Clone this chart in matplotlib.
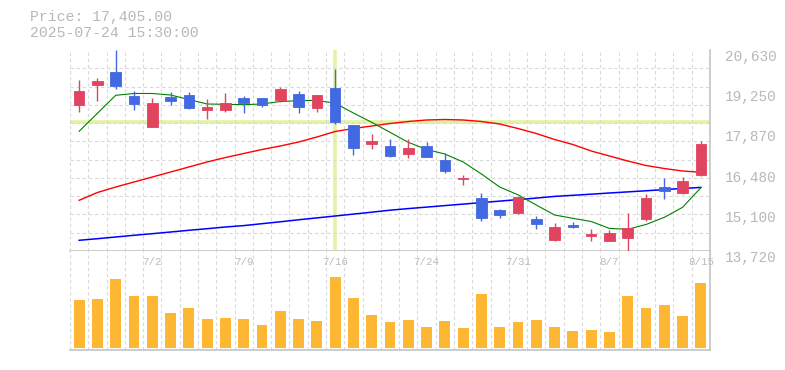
import numpy as np
import matplotlib
matplotlib.use("Agg")
import matplotlib.pyplot as plt
from matplotlib.ticker import FixedLocator
from matplotlib.transforms import blended_transform_factory

plt.rcParams['font.family'] = ['Liberation Mono', 'DejaVu Sans Mono']

# daily candles, 2025-06-26 .. 2025-08-15
dates = ['6/26', '6/27', '6/30', '7/1', '7/2', '7/3', '7/4', '7/7', '7/8', '7/9',
         '7/10', '7/11', '7/14', '7/15', '7/16', '7/17', '7/18', '7/22', '7/23', '7/24',
         '7/25', '7/28', '7/29', '7/30', '7/31', '8/1', '8/4', '8/5', '8/6', '8/7',
         '8/8', '8/12', '8/13', '8/14', '8/15']
opens = [18740, 19425, 19875, 19050, 17995, 19025, 19085, 18580, 18565, 18980,
         18980, 18920, 19115, 18635, 19325, 18050, 17410, 17330, 17065, 17330,
         16840, 16180, 15530, 15130, 15025, 14820, 14100, 14615, 14245, 14075,
         14175, 14830, 15920, 15725, 16335]
highs = [19600, 19680, 20630, 19220, 18980, 19185, 19185, 18945, 19150, 19050,
         18985, 19370, 19220, 19085, 19975, 18050, 17740, 17570, 17560, 17465,
         17080, 16320, 15715, 15175, 15590, 14925, 14685, 14715, 14475, 14430,
         15025, 15680, 16230, 16265, 17500]
lows = [18510, 18875, 19300, 18565, 17990, 18740, 18610, 18260, 18500, 18465,
        18680, 18830, 18465, 18510, 18085, 17030, 17235, 16960, 16925, 16960,
        16410, 16000, 14760, 14865, 14990, 14485, 14065, 14510, 14065, 14070,
        13720, 14760, 15520, 15690, 16310]
closes = [19220, 19565, 19390, 18775, 18810, 18885, 18635, 18680, 18810, 18820,
          18730, 19290, 18670, 19085, 18140, 17270, 17500, 16985, 17260, 16960,
          16480, 16215, 14865, 14960, 15565, 14660, 14545, 14545, 14305, 14340,
          14510, 15540, 15795, 16125, 17405]
volumes = [48, 49, 69, 52, 52, 35, 40, 29, 30, 29,
           23, 37, 29, 27, 71, 50, 33, 26, 28, 21,
           27, 20, 54, 21, 26, 28, 21, 17, 18, 16,
           52, 40, 43, 32, 65]

ma_short = [17835, 18454, 19073, 19135, 19135, 19083, 18928, 18774, 18763, 18750,
            18774, 18860, 18887, 18901, 18798, 18464, 18144, 17801, 17457, 17209,
            17055, 16780, 16367, 15920, 15652, 15301, 14958, 14844, 14734, 14497,
            14466, 14631, 14878, 15222, 15896]
ma_mid = [15463, 15731, 15920, 16092, 16264, 16436, 16608, 16780, 16934, 17072,
          17209, 17330, 17467, 17639, 17828, 17931, 18017, 18103, 18172, 18224,
          18241, 18224, 18172, 18086, 17931, 17759, 17553, 17381, 17158, 16986,
          16814, 16659, 16556, 16470, 16426]
ma_long = [14088, 14143, 14201, 14260, 14315, 14373, 14432, 14487, 14545, 14593,
           14659, 14724, 14793, 14858, 14923, 14989, 15054, 15123, 15178, 15229,
           15281, 15332, 15384, 15435, 15487, 15539, 15597, 15635, 15673, 15714,
           15752, 15790, 15831, 15869, 15906]

price_ticks = [20630, 19250, 17870, 16480, 15100, 13720]
label_every = [4, 9, 14, 19, 24, 29, 34]
cursor_idx = 14

up_col = '#e0445f'
down_col = '#4169e1'
vol_col = '#fdb733'
grid_col = '#d9d9d9'
frame_col = '#c4c4c4'
text_col = '#b8b8b8'

fig = plt.figure(figsize=(7.85, 3.7), dpi=100)
W, H = 785, 370
ax = fig.add_axes([70 / W, (H - 251) / H, 640 / W, 201 / H])
axv = fig.add_axes([70 / W, (H - 350) / H, 640 / W, 99 / H])

x = np.arange(len(dates))
ymin, ymax = price_ticks[-1], price_ticks[0]

for a in (ax, axv):
    a.set_xlim(-0.5, len(dates) - 0.5)
    a.xaxis.set_minor_locator(FixedLocator(np.arange(-0.5, len(dates), 1)))
    a.grid(which='minor', axis='x', ls=(0, (3, 2.5)), lw=0.8, color=grid_col, zorder=0)
    a.set_xticks([])
    a.tick_params(axis='both', which='both', length=0)
    for s in ('top', 'left'):
        a.spines[s].set_visible(False)
    for s in ('right', 'bottom'):
        a.spines[s].set_color(frame_col)
        a.spines[s].set_linewidth(1.2)

# price panel
ax.set_ylim(ymin, ymax)
ax.yaxis.set_minor_locator(FixedLocator(np.linspace(ymin, ymax, 12)))
ax.grid(which='minor', axis='y', ls=(0, (3, 2.5)), lw=0.8, color=grid_col, zorder=0)
ax.yaxis.tick_right()
ax.set_yticks(price_ticks)
ax.set_yticklabels([f'{v:,}' for v in price_ticks])
ax.tick_params(axis='y', pad=11, labelsize=10.4, labelcolor=text_col)
plt.setp(ax.get_yticklabels(), va='top')

# crosshair
ax.axvline(cursor_idx, color='#e3f3a3', lw=2.6, zorder=1)
ax.axhline(closes[cursor_idx], color='#e3f3a3', lw=2.6, zorder=1)

ax.plot(x, ma_long, color='#0000ff', lw=1.1, zorder=2)
ax.plot(x, ma_mid, color='#ff0000', lw=1.0, zorder=2)
ax.plot(x, ma_short, color='#008000', lw=0.8, zorder=2)

o = np.array(opens)
c = np.array(closes)
cols = [up_col if cc >= oo else down_col for oo, cc in zip(o, c)]
ax.vlines(x, lows, highs, colors=cols, lw=1.0, zorder=3)
ax.bar(x, np.abs(c - o), bottom=np.minimum(o, c), width=0.58, color=cols,
       edgecolor=cols, lw=0.6, zorder=4)

# volume panel
axv.set_ylim(-2, 97)
axv.set_yticks([])
axv.bar(x, volumes, width=0.6, color=vol_col, zorder=2)
tr = blended_transform_factory(axv.transData, axv.transAxes)
for i in label_every:
    axv.text(i, 0.885, dates[i], transform=tr, ha='center', va='center',
             fontsize=7.8, color='#bcbcbc', zorder=3)

fig.text(30 / W, 1 - 17.5 / H, 'Price: 17,405.00', ha='left', va='center',
         fontsize=10.7, color=text_col)
fig.text(30 / W, 1 - 33 / H, '2025-07-24 15:30:00', ha='left', va='center',
         fontsize=10.7, color=text_col)

fig.savefig('out.png', dpi=100)
